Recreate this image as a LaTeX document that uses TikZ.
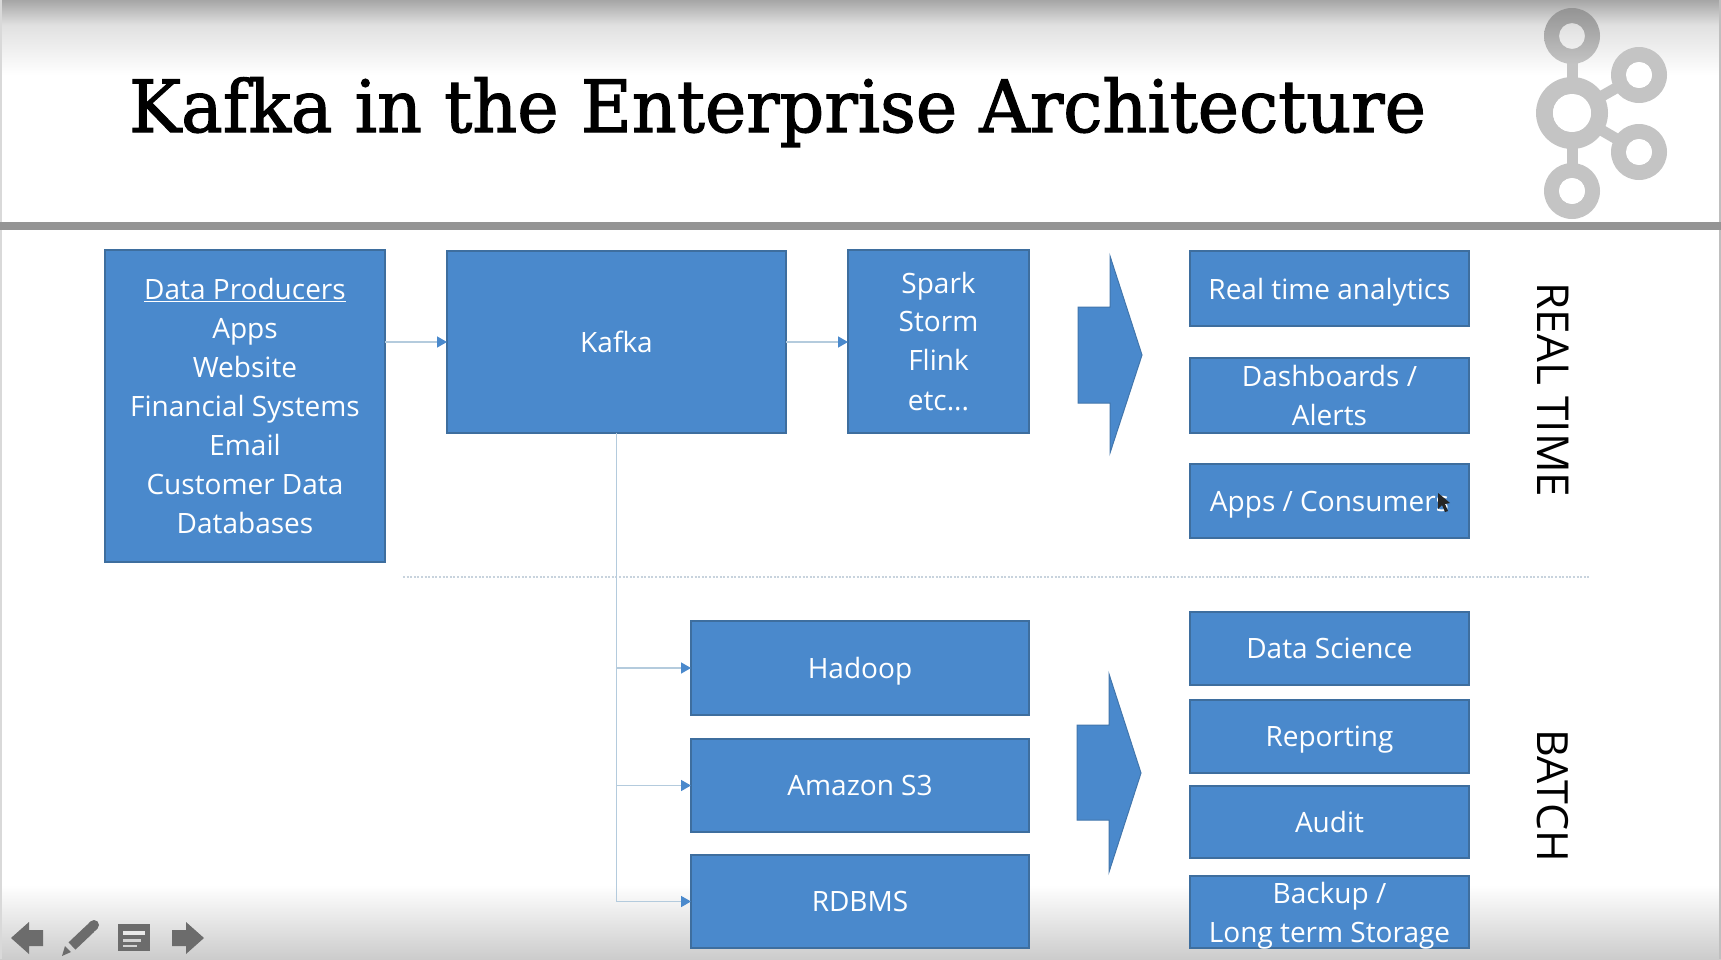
\documentclass[tikz,border=0pt]{standalone}
\usepackage{fontspec}
\setmainfont{Open Sans}
\newfontfamily\titlefont[FakeBold=1.6,FakeStretch=0.97]{DejaVu Serif}
\usetikzlibrary{arrows.meta,calc}
\definecolor{boxblue}{HTML}{4A89CC}
\definecolor{boxedge}{HTML}{3E6E9E}
\definecolor{connline}{HTML}{B4CBDD}
\definecolor{dotline}{HTML}{C8D3DD}
\definecolor{logogray}{HTML}{C4C4C4}
\definecolor{navgray}{HTML}{6C6C6C}
\tikzset{
  every node/.style={inner sep=0pt,outer sep=0pt},
  bluebox/.style={draw=boxedge,line width=1.5pt,fill=boxblue,text=white,align=center,anchor=north west,
     font=\fontsize{28}{39}\selectfont},
  conn/.style={draw=connline,line width=1.5pt,-{Triangle[length=10pt,width=11pt,color=boxblue]}},
  sidelabel/.style={rotate=-90,font=\fontsize{44}{50}\selectfont,text=black},
}
\newcommand{\bbox}[6]{\node[bluebox,minimum width=#3pt-1pt,minimum height=#4pt-1pt] (#5) at (#1+1,#2+1) {#6};}
\newcommand{\nodepth}[1]{\raisebox{0pt}[\height][0pt]{#1}}
\begin{document}
\begin{tikzpicture}[x=1pt,y=-1pt]
\useasboundingbox (0,0) rectangle (1721,959);
\fill[white] (0,0) rectangle (1721,959);
% top and bottom shading of the slide
\shade[top color=black!35,bottom color=black!12] (0,0) rectangle (1721,25);
\shade[top color=black!12,bottom color=white] (0,25) rectangle (1721,75);
\shade[top color=white,bottom color=black!20] (0,885) rectangle (1721,959);
\fill[black!15] (0,0) rectangle (1.5,959);
\fill[black!25] (1719,0) rectangle (1721,959);
% logo
\draw[logogray,line width=11pt] (1572,60) -- (1572,170);
\draw[logogray,line width=11pt] (1639,75) -- (1572,113) -- (1639,152);
\shade[even odd rule,top color=black!42,bottom color=logogray] (1572,36) circle[radius=28] (1572,36) circle[radius=13];
\fill[even odd rule,logogray] (1639,75) circle[radius=28] (1639,75) circle[radius=13];
\fill[even odd rule,logogray] (1639,152) circle[radius=28] (1639,152) circle[radius=13];
\fill[even odd rule,logogray] (1572,191) circle[radius=28] (1572,191) circle[radius=13];
\fill[even odd rule,logogray] (1572,113) circle[radius=36] (1572,113) circle[radius=19];
\fill[white] (1572,113) circle[radius=19] (1572,191) circle[radius=13] (1639,75) circle[radius=13] (1639,152) circle[radius=13];
% rule
\fill[black!42] (0,222) rectangle (1721,230);
% title
\node[font=\titlefont\fontsize{72}{80}\selectfont,anchor=base west,text=black] (title) at (129,132) {Kafka in the Enterprise Architecture};
% boxes
\bbox{104}{249}{281}{313}{prod}{\underline{Data Producers}\\Apps\\Website\\Financial Systems\\Email\\Customer Data\\Databases}
\bbox{446}{250}{340}{183}{kafka}{Kafka}
\bbox{847}{249}{182}{184}{spark}{\raisebox{-1pt}{Spark}\\Storm\\Flink\\\raisebox{-1pt}{etc...}}
\bbox{1189}{250}{280}{76}{rta}{\nodepth{Real time analytics}}
\bbox{1189}{357}{280}{76}{dash}{Dashboards /\\Alerts}
\bbox{1189}{463}{280}{75}{apps}{\nodepth{Apps / Consumers}}
\bbox{690}{620}{339}{95}{hadoop}{\nodepth{Hadoop}}
\bbox{690}{738}{339}{94}{s3}{Amazon S3}
\bbox{690}{854}{339}{94}{rdbms}{RDBMS}
\bbox{1189}{611}{280}{74}{ds}{Data Science}
\bbox{1189}{699}{280}{74}{rep}{\nodepth{Reporting}}
\bbox{1189}{785}{280}{73}{audit}{Audit}
\bbox{1189}{875}{280}{73}{backup}{Backup /\\\nodepth{Long term Storage}}
% dotted separator
\coordinate (dotA) at (403,577);
\coordinate (dotB) at (1590,577);
\draw[dotline,line width=2.4pt,dash pattern=on 2pt off 1.6pt] (dotA) -- (dotB);
% connectors
\draw[conn] (prod.east |- kafka.west) -- (kafka.west);
\draw[conn] (kafka.east) -- (kafka.east -| spark.west);
\draw[conn] (kafka.south) |- (hadoop.west);
\draw[conn] (kafka.south) |- (s3.west);
\draw[conn] (kafka.south) |- (rdbms.west);
% block arrows
\fill[boxblue,draw=boxedge!70!boxblue,line width=1pt] (1078,307) -- (1110,307) -- (1110,256) -- (1142,355) -- (1110,453) -- (1110,403) -- (1078,403) -- cycle;
\fill[boxblue,draw=boxedge!70!boxblue,line width=1pt] (1077,725) -- (1109,725) -- (1109,674) -- (1141,773) -- (1109,872) -- (1109,820) -- (1077,820) -- cycle;
% side labels
\node[sidelabel] (rt) at (1553,390) {REAL TIME};
\node[sidelabel,font=\fontsize{43}{50}\selectfont] (batch) at (1553,796) {BATCH};
% mouse cursor
\fill[black!85] (1438,493) -- (1438,509) -- (1442,505) -- (1445,512) -- (1448,511) -- (1445,504) -- (1450,503) -- cycle;
% nav icons
\fill[navgray] (11,938) -- (29,922) -- (29,930) -- (43,930) -- (43,946) -- (29,946) -- (29,954) -- cycle;
\fill[navgray] (204,938) -- (186,922) -- (186,930) -- (172,930) -- (172,946) -- (186,946) -- (186,954) -- cycle;
\draw[navgray,line width=10pt] (72,946) -- (91,928);
\draw[navgray,line width=10pt,line cap=round] (92,927) -- (94,925);
\fill[navgray] (62,956) -- (65,946) -- (71,952) -- cycle;
\fill[navgray] (118,924) rectangle (150,951);
\fill[white!85!navgray] (123,931) rectangle (145,935);
\fill[white!70!navgray] (123,939) rectangle (141,942);
\fill[white!70!navgray] (123,945) rectangle (137,947);
\end{tikzpicture}
\end{document}
